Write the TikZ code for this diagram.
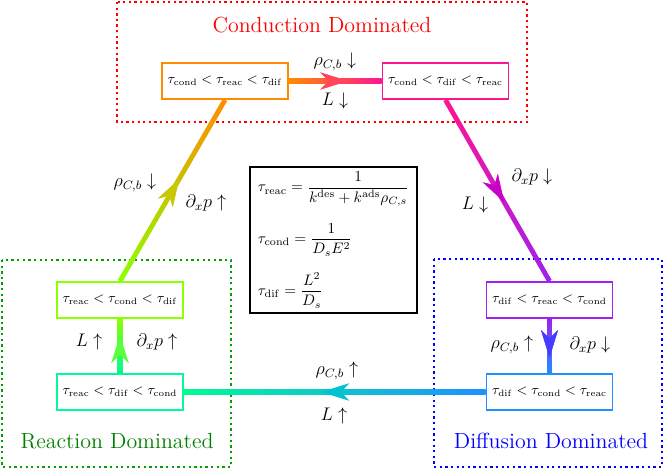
\documentclass[tikz,border=0pt]{standalone}
\usepackage{amsmath}
\usetikzlibrary{calc,arrows.meta,decorations.markings}
\pgfdeclarelayer{bg}
\pgfsetlayers{bg,main}
\definecolor{cOrange}{RGB}{255,140,0}
\definecolor{cPink}{RGB}{255,20,147}
\definecolor{cLime}{RGB}{140,255,0}
\definecolor{cSpring}{RGB}{0,250,150}
\definecolor{cViolet}{RGB}{160,32,240}
\definecolor{cAzure}{RGB}{30,144,255}
\definecolor{cRegGreen}{RGB}{0,160,0}
\definecolor{cTitleGreen}{RGB}{0,128,0}
\tikzset{
  tbox/.style={draw, line width=1.2pt, fill=white, minimum width=82.9pt, minimum height=23.7pt, inner sep=0pt, font=\small},
  region/.style={line width=1.5pt, dash pattern=on 1.5pt off 2.2pt},
  lab/.style={font=\large},
  ttl/.style={font=\Large, anchor=base},
  eqbox/.style={draw, line width=1.6pt, fill=white, minimum width=110pt, minimum height=94.8pt, align=left},
}
\newcommand{\gradarrow}[6]{%
  \path let \p1=(#1), \p2=($(#2)-(#1)$) in
    \pgfextra{\pgfmathsetmacro{\tmpa}{atan2(\y2,\x2)}\pgfmathsetmacro{\tmpl}{veclen(\x2,\y2)}%
      \xdef\gang{\tmpa}\xdef\glen{\tmpl}\xdef\gax{\x1}\xdef\gay{\y1}};
  \begin{scope}[transform canvas={shift={(\gax,\gay)}, rotate=\gang}]
    \shade[left color=#3, right color=#4] (0pt,-1.6pt) rectangle (\glen pt,1.6pt);
  \end{scope}
  \path[line width=0.4pt, decorate, decoration={markings, mark=at position #6 with {\arrow[#5]{Stealth[length=18.5pt, width=11.5pt, inset=5.5pt]}}}] (#1) -- (#2);
}
\begin{document}
\begin{tikzpicture}[x=0.658pt, y=-0.658pt]
\useasboundingbox (0,0) rectangle (665,469);

% boxes
\node[tbox, draw=cOrange] (b1) at (225,81) {$\tau_{\mathrm{cond}}<\tau_{\mathrm{reac}}<\tau_{\mathrm{dif}}$};
\node[tbox, draw=cPink] (b2) at (445.5,81) {$\tau_{\mathrm{cond}}<\tau_{\mathrm{dif}}<\tau_{\mathrm{reac}}$};
\node[tbox, draw=cLime] (b3) at (120,300) {$\tau_{\mathrm{reac}}<\tau_{\mathrm{cond}}<\tau_{\mathrm{dif}}$};
\node[tbox, draw=cSpring] (b4) at (120,392) {$\tau_{\mathrm{reac}}<\tau_{\mathrm{dif}}<\tau_{\mathrm{cond}}$};
\node[tbox, draw=cViolet] (b5) at (549.5,300) {$\tau_{\mathrm{dif}}<\tau_{\mathrm{reac}}<\tau_{\mathrm{cond}}$};
\node[tbox, draw=cAzure] (b6) at (549.5,392) {$\tau_{\mathrm{dif}}<\tau_{\mathrm{cond}}<\tau_{\mathrm{reac}}$};

% equations
\node[eqbox] (eq) at (333.5,240) {%
$\tau_{\mathrm{reac}}=\dfrac{1}{k^{\mathrm{des}}+k^{\mathrm{ads}}\rho_{C,s}}$\\[10pt]
$\tau_{\mathrm{cond}}=\dfrac{1}{D_sE^2}$\\[10pt]
$\tau_{\mathrm{dif}}=\dfrac{L^2}{D_s}$};

\begin{pgfonlayer}{bg}
\draw[region, red] (117,2) rectangle (527,122);
\draw[region, cRegGreen] (2,260) rectangle (231,467);
\draw[region, blue] (434,259) rectangle (662,467);

\gradarrow{b4.north}{b3.south}{cSpring}{cLime}{color={rgb,255:red,90;green,255;blue,60}}{0.70}
\gradarrow{b3.north}{b1.south}{cLime}{cOrange}{color={rgb,255:red,200;green,200;blue,0}}{0.565}
\gradarrow{b1.east}{b2.west}{cOrange}{cPink}{color={rgb,255:red,255;green,70;blue,90}}{0.64}
\gradarrow{b2.south}{b5.north}{cPink}{cViolet}{color={rgb,255:red,200;green,0;blue,200}}{0.565}
\gradarrow{b5.south}{b6.north}{cViolet}{cAzure}{color={rgb,255:red,70;green,60;blue,255}}{0.72}
\gradarrow{b6.west}{b4.east}{cAzure}{cSpring}{color={rgb,255:red,0;green,195;blue,210}}{0.545}
\end{pgfonlayer}

% titles
\node[ttl, red] (t1) at (322,33) {Conduction Dominated};
\node[ttl, cTitleGreen] (t2) at (117,448) {Reaction Dominated};
\node[ttl, blue] (t3) at (551,448) {Diffusion Dominated};

% labels
\node[lab] (l1) at (335,62) {$\rho_{C,b}\downarrow$};
\node[lab] (l2) at (335,101) {$L\downarrow$};
\node[lab] (l3) at (135,183) {$\rho_{C,b}\downarrow$};
\node[lab] (l4) at (206,203) {$\partial_x p\uparrow$};
\node[lab] (l5) at (532,177) {$\partial_x p\downarrow$};
\node[lab] (l6) at (475,205) {$L\downarrow$};
\node[lab] (l7) at (89,342) {$L\uparrow$};
\node[lab] (l8) at (157,342) {$\partial_x p\uparrow$};
\node[lab] (l9) at (512,345) {$\rho_{C,b}\uparrow$};
\node[lab] (l10) at (590,345) {$\partial_x p\downarrow$};
\node[lab] (l11) at (337,371) {$\rho_{C,b}\uparrow$};
\node[lab] (l12) at (334,416) {$L\uparrow$};
\end{tikzpicture}
\end{document}
